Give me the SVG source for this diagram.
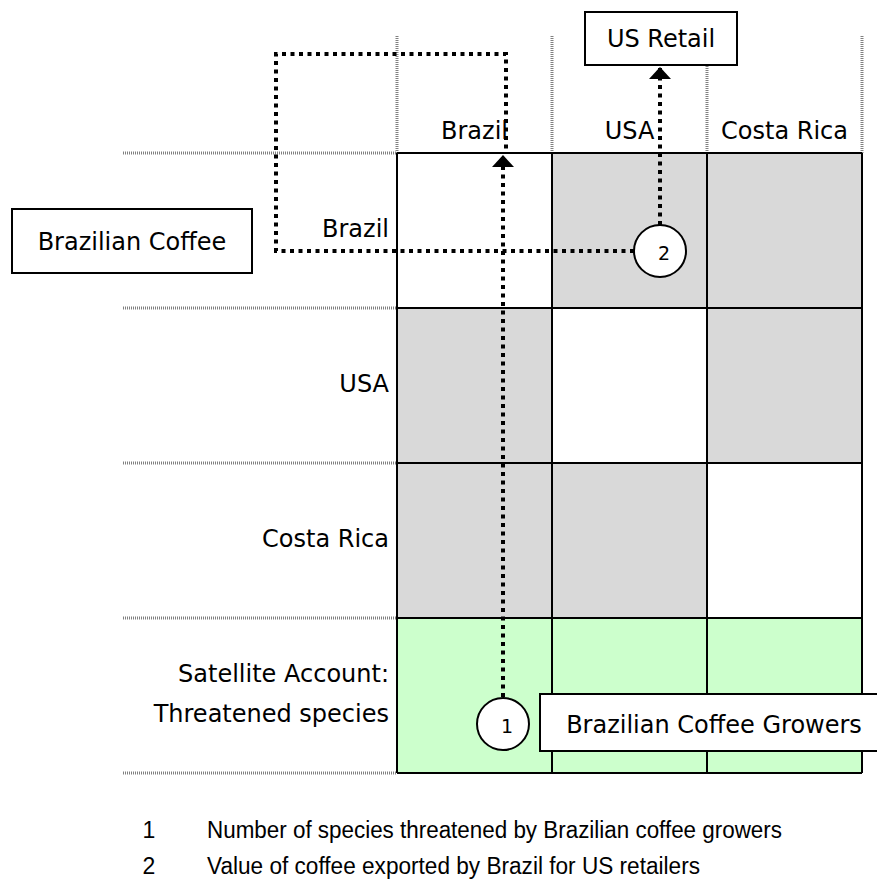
<svg xmlns="http://www.w3.org/2000/svg" width="877" height="884" viewBox="0 0 877 884">
<style>
.lbl{font-family:"DejaVu Sans",Verdana,sans-serif;font-size:24px;fill:#000}
.num{font-family:"DejaVu Sans",Verdana,sans-serif;font-size:19px;fill:#000}
.leg{font-family:"Liberation Sans",Arial,sans-serif;font-size:23px;fill:#000}
.sep{stroke:#808080;stroke-width:3;stroke-dasharray:1 1;fill:none}
.grid{stroke:#000;stroke-width:2;fill:none}
.box{fill:#fff;stroke:#000;stroke-width:2}
.flow{fill:none;stroke:#000;stroke-width:4;stroke-dasharray:4 4.5}
.gray{fill:#d9d9d9}
.white{fill:#fff}
.green{fill:#ccffcc}
</style>
<defs>
<marker id="arr" viewBox="0 0 12 22" refX="12" refY="11" markerWidth="12" markerHeight="22" markerUnits="userSpaceOnUse" orient="auto">
<path d="M0,0 L12,11 L0,22 Z" fill="#000"/>
</marker>
</defs>
<rect width="877" height="884" fill="#fff"/>
<g id="matrix">
<rect class="white" x="397" y="153" width="155" height="155"/>
<rect class="gray" x="552" y="153" width="155" height="155"/>
<rect class="gray" x="707" y="153" width="155" height="155"/>
<rect class="gray" x="397" y="308" width="155" height="155"/>
<rect class="white" x="552" y="308" width="155" height="155"/>
<rect class="gray" x="707" y="308" width="155" height="155"/>
<rect class="gray" x="397" y="463" width="155" height="155"/>
<rect class="gray" x="552" y="463" width="155" height="155"/>
<rect class="white" x="707" y="463" width="155" height="155"/>
<rect class="green" x="397" y="618" width="465" height="155"/>
<path class="sep" d="M123,153H397M123,308H397M123,463H397M123,618H397M123,773H397M397,36V153M552,36V153M707,36V153M862,36V153"/>
<path class="grid" d="M397,153H862M397,308H862M397,463H862M397,618H862M397,773H862M397,153V773M552,153V773M707,153V773M862,153V773"/>
<text class="lbl" x="474.5" y="139" text-anchor="middle">Brazil</text>
<text class="lbl" x="629.5" y="139" text-anchor="middle">USA</text>
<text class="lbl" x="784.5" y="139" text-anchor="middle">Costa Rica</text>
<text class="lbl" x="389" y="237" text-anchor="end">Brazil</text>
<text class="lbl" x="389" y="392" text-anchor="end">USA</text>
<text class="lbl" x="389" y="547" text-anchor="end">Costa Rica</text>
<text class="lbl" x="389" y="682" text-anchor="end">Satellite Account:</text>
<text class="lbl" x="389" y="722" text-anchor="end">Threatened species</text>
</g>
<g id="connectors">
<path class="flow" d="M503,697V155" marker-end="url(#arr)"/>
<path class="flow" d="M634,251H276V54H506V150"/>
<path class="flow" d="M660,225V67" marker-end="url(#arr)"/>
</g>
<g id="us-retail">
<rect class="box" x="585" y="12" width="152" height="53"/>
<text class="lbl" x="661" y="47" text-anchor="middle">US Retail</text>
</g>
<g id="brazilian-coffee">
<rect class="box" x="12" y="209" width="240" height="64"/>
<text class="lbl" x="132" y="250" text-anchor="middle">Brazilian Coffee</text>
</g>
<g id="growers">
<rect class="box" x="540" y="694" width="345" height="57"/>
<text class="lbl" x="714" y="733" text-anchor="middle">Brazilian Coffee Growers</text>
</g>
<g id="marker-1">
<circle class="box" cx="503" cy="724" r="26"/>
<text class="num" x="507" y="733" text-anchor="middle">1</text>
</g>
<g id="marker-2">
<circle class="box" cx="660" cy="251" r="26"/>
<text class="num" x="664" y="260" text-anchor="middle">2</text>
</g>
<g id="legend">
<text class="leg" x="149" y="838" text-anchor="middle">1</text>
<text class="leg" x="207" y="838" textLength="575" lengthAdjust="spacingAndGlyphs">Number of species threatened by Brazilian coffee growers</text>
<text class="leg" x="149" y="874" text-anchor="middle">2</text>
<text class="leg" x="207" y="874" textLength="493" lengthAdjust="spacingAndGlyphs">Value of coffee exported by Brazil for US retailers</text>
</g>
</svg>
